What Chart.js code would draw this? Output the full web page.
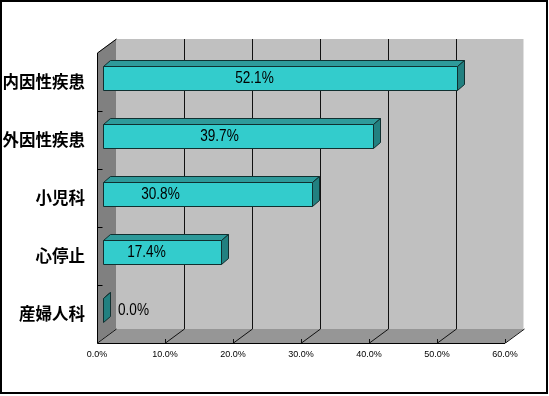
<!DOCTYPE html>
<html>
<head>
<meta charset="utf-8">
<script src="https://cdn.jsdelivr.net/npm/chart.js@4"></script>
<style>
  html, body { margin: 0; padding: 0; background: #fff; }
</style>
</head>
<body>
<canvas id="myChart" width="549" height="396"></canvas>
<script>
// データ
const categories = ['内因性疾患', '外因性疾患', '小児科', '心停止', '産婦人科'];
const values = [52.1, 39.7, 30.8, 17.4, 0.0];
const tickValues = [0, 10, 20, 30, 40, 50, 60];

// 3D look (Excel style)
const WALL_DX = 19, WALL_DY = -14;   // depth of the walls
const BAR_OX = 6, BAR_OY = -4;       // bar front face offset from front plane
const BAR_DX = 7, BAR_DY = -6;       // bar depth
const labelDx = [151, 116, 57, 43, 30]; // value label centre, px from bar start

function poly(ctx, pts, fill, stroke) {
  ctx.beginPath();
  ctx.moveTo(pts[0][0], pts[0][1]);
  for (let i = 1; i < pts.length; i++) ctx.lineTo(pts[i][0], pts[i][1]);
  ctx.closePath();
  if (fill) { ctx.fillStyle = fill; ctx.fill(); }
  if (stroke) { ctx.strokeStyle = stroke; ctx.lineWidth = 1; ctx.stroke(); }
}

function line(ctx, x1, y1, x2, y2, color) {
  ctx.beginPath();
  ctx.moveTo(x1, y1);
  ctx.lineTo(x2, y2);
  ctx.strokeStyle = color || '#000';
  ctx.lineWidth = 1;
  ctx.stroke();
}

const excel3d = {
  id: 'excel3d',
  beforeDatasetsDraw(chart) {
    const ctx = chart.ctx;
    const xs = chart.scales.x;
    const L = xs.getPixelForValue(tickValues[0]);
    const R = xs.getPixelForValue(tickValues[tickValues.length - 1]);
    const T = chart.chartArea.top, B = chart.chartArea.bottom;
    ctx.save();
    // back wall
    poly(ctx, [[L + WALL_DX, T + WALL_DY], [R + WALL_DX, T + WALL_DY], [R + WALL_DX, B + WALL_DY], [L + WALL_DX, B + WALL_DY]], '#C0C0C0');
    line(ctx, R + WALL_DX - 0.5, T + WALL_DY, R + WALL_DX - 0.5, B + WALL_DY, '#E0E0E0');
    // left wall
    poly(ctx, [[L, T], [L + WALL_DX, T + WALL_DY], [L + WALL_DX, B + WALL_DY], [L, B]], '#808080');
    // floor
    poly(ctx, [[L, B], [L + WALL_DX, B + WALL_DY], [R + WALL_DX, B + WALL_DY], [R, B]], '#969696');
    // grid lines
    tickValues.forEach((v) => {
      const xf = Math.round(xs.getPixelForValue(v)) + 0.5;
      const xb = xf + WALL_DX;
      if (v > tickValues[0] && v < tickValues[tickValues.length - 1]) {
        line(ctx, xb, T + WALL_DY, xb, B + WALL_DY, '#111');
      }
      line(ctx, xb, B + WALL_DY, xf, B, '#111');
      line(ctx, xf, B - 4, xf, B, '#111');
    });
    // edges
    const l = Math.round(L) + 0.5, b = Math.round(B) + 0.5;
    line(ctx, l, T, l, b, '#000');
    line(ctx, l, T, l + WALL_DX, T + WALL_DY, '#000');
    line(ctx, l, b, R, b, '#000');
    // category ticks on the left wall
    const band = (B - T) / categories.length;
    for (let i = 1; i < categories.length; i++) {
      const yb = Math.round(T + band * i) + 0.5;
      line(ctx, l, yb, l + 5, yb, '#000');
    }
    ctx.restore();
  },
  afterDatasetsDraw(chart) {
    const ctx = chart.ctx;
    const meta = chart.getDatasetMeta(0);
    ctx.save();
    meta.data.forEach((bar, i) => {
      const p = bar.getProps(['x', 'y', 'base', 'height'], true);
      const x0 = Math.round(p.base + BAR_OX) + 0.5;
      const x1 = Math.round(p.x + BAR_OX) + 0.5;
      const top = Math.round(p.y - p.height / 2 + BAR_OY) + 0.5;
      const bot = Math.round(p.y + p.height / 2 + BAR_OY) + 0.5;
      const edge = '#103030';
      // top face
      poly(ctx, [[x0, top], [x0 + BAR_DX, top + BAR_DY], [x1 + BAR_DX, top + BAR_DY], [x1, top]], '#2E9A9A', edge);
      // side face
      poly(ctx, [[x1, top], [x1 + BAR_DX, top + BAR_DY], [x1 + BAR_DX, bot + BAR_DY], [x1, bot]], '#228080', edge);
      // front face
      if (x1 > x0) poly(ctx, [[x0, top], [x1, top], [x1, bot], [x0, bot]], '#33CCCC', edge);
      // value label (narrow)
      ctx.save();
      ctx.translate(x0 + labelDx[i], (top + bot) / 2);
      ctx.scale(0.8, 1);
      ctx.fillStyle = '#000';
      ctx.font = "17px 'Liberation Sans', Arial, sans-serif";
      ctx.textAlign = 'center';
      ctx.textBaseline = 'middle';
      ctx.fillText(values[i].toFixed(1) + '%', 0, 0);
      ctx.restore();
    });
    ctx.restore();
  },
  afterDraw(chart) {
    const ctx = chart.ctx;
    ctx.save();
    ctx.strokeStyle = '#000';
    ctx.lineWidth = 2;
    ctx.strokeRect(1, 1, 546, 392);
    ctx.restore();
  }
};

const ctx = document.getElementById('myChart').getContext('2d');
new Chart(ctx, {
  type: 'bar',
  data: {
    labels: categories,
    datasets: [{
      data: values,
      backgroundColor: 'rgba(0,0,0,0)',
      borderWidth: 0,
      categoryPercentage: 1,
      barPercentage: 0.4
    }]
  },
  options: {
    indexAxis: 'y',
    responsive: false,
    devicePixelRatio: 1,
    animation: false,
    layout: { padding: { top: 53, right: 44, bottom: 0, left: 0 } },
    plugins: {
      legend: { display: false },
      tooltip: { enabled: false }
    },
    scales: {
      x: {
        min: 0,
        max: 60,
        afterFit: (s) => { s.height = 53; },
        afterBuildTicks: (s) => { s.ticks = tickValues.map((v) => ({ value: v })); },
        ticks: {
          autoSkip: false,
          maxRotation: 0,
          padding: 6,
          color: '#000',
          font: { family: "'Liberation Sans', Arial, sans-serif", size: 9 },
          callback: (v) => Number(v).toFixed(1) + '%'
        },
        grid: { display: false, drawTicks: false },
        border: { display: false }
      },
      y: {
        afterFit: (s) => { s.width = 97; },
        ticks: {
          padding: 12,
          color: '#000',
          font: { family: "'Noto Sans CJK JP', sans-serif", size: 16.5, weight: 'bold' }
        },
        grid: { display: false, drawTicks: false },
        border: { display: false }
      }
    }
  },
  plugins: [excel3d]
});
</script>
</body>
</html>
